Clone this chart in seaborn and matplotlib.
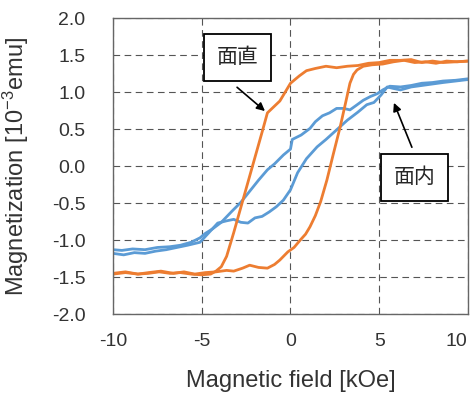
import pandas as pd
import seaborn as sns
import matplotlib.pyplot as plt
from matplotlib.transforms import ScaledTranslation

# perpendicular (面直) loop
perp_up_h = [-10, -9.3, -8.6, -8.0, -7.3, -6.6, -6.0, -5.4, -4.8, -4.2, -3.6, -3.2, -2.7, -2.3,
             -1.8, -1.3, -0.9, -0.6, -0.15, 0.2, 0.55, 0.85, 1.1, 1.4, 1.7, 2.05, 2.4, 2.8, 3.1,
             3.35, 3.55, 3.75, 4.1, 4.6, 5.2, 5.8, 6.4, 7.0, 7.6, 8.2, 8.8, 9.4, 10]
perp_up_m = [-1.45, -1.43, -1.46, -1.44, -1.42, -1.45, -1.43, -1.46, -1.44, -1.43, -1.41, -1.42,
             -1.38, -1.34, -1.37, -1.38, -1.33, -1.27, -1.16, -1.10, -1.00, -0.92, -0.82, -0.67,
             -0.48, -0.19, 0.15, 0.53, 0.85, 1.12, 1.24, 1.30, 1.35, 1.37, 1.38, 1.41, 1.43, 1.40,
             1.41, 1.39, 1.42, 1.41, 1.42]
perp_down_h = [10, 9.3, 8.6, 8.0, 7.4, 6.8, 6.2, 5.6, 5.0, 4.4, 3.8, 3.2, 2.6, 2.0, 1.4, 0.9,
               0.5, 0.0, -0.3, -0.6, -0.95, -1.3, -1.6, -2.0, -2.4, -2.8, -3.2, -3.6, -3.9, -4.2,
               -4.5, -5.0, -5.6, -6.2, -6.8, -7.4, -8.0, -8.6, -9.3, -10]
perp_down_m = [1.42, 1.41, 1.40, 1.42, 1.40, 1.44, 1.43, 1.43, 1.40, 1.39, 1.36, 1.35, 1.33, 1.35,
               1.32, 1.29, 1.22, 1.12, 1.00, 0.88, 0.80, 0.72, 0.46, 0.12, -0.22, -0.56, -0.90,
               -1.22, -1.36, -1.42, -1.46, -1.47, -1.46, -1.44, -1.45, -1.43, -1.45, -1.46, -1.44,
               -1.46]

# in-plane (面内) loop
ip_up_h = [-10, -9.4, -8.8, -8.2, -7.6, -7.0, -6.4, -5.8, -5.1, -4.6, -4.1, -3.6, -3.2, -2.8,
           -2.4, -2.0, -1.6, -1.2, -0.8, -0.4, 0.0, 0.4, 0.9, 1.5, 2.0, 2.6, 3.2, 3.8, 4.3, 4.7,
           5.1, 5.45, 5.8, 6.2, 6.8, 7.4, 8.0, 8.6, 9.3, 10]
ip_up_m = [-1.18, -1.20, -1.17, -1.18, -1.15, -1.13, -1.10, -1.07, -1.03, -0.90, -0.77, -0.74,
           -0.72, -0.76, -0.77, -0.70, -0.68, -0.62, -0.55, -0.46, -0.32, -0.09, 0.10, 0.26,
           0.36, 0.49, 0.62, 0.73, 0.83, 0.86, 0.96, 1.07, 1.05, 1.03, 1.07, 1.09, 1.11, 1.13,
           1.15, 1.17]
ip_down_h = [10, 9.3, 8.6, 8.0, 7.4, 6.8, 6.2, 5.6, 5.2, 4.9, 4.5, 4.1, 3.7, 3.35, 3.0, 2.6,
             2.2, 1.8, 1.4, 1.1, 0.6, 0.1, 0.0, -0.4, -0.9, -1.3, -1.8, -2.3, -2.8, -3.3, -3.9,
             -4.4, -4.8, -5.1, -5.6, -6.2, -6.8, -7.5, -8.2, -8.9, -9.5, -10]
ip_down_m = [1.18, 1.16, 1.15, 1.13, 1.12, 1.09, 1.07, 1.08, 1.03, 0.98, 0.94, 0.89, 0.82, 0.76,
             0.78, 0.78, 0.72, 0.68, 0.60, 0.51, 0.42, 0.36, 0.23, 0.15, 0.03, -0.05, -0.19,
             -0.34, -0.49, -0.61, -0.76, -0.85, -0.91, -0.97, -1.03, -1.07, -1.09, -1.10, -1.13,
             -1.12, -1.14, -1.13]

x_ticks = [-10, -5, 0, 5, 10]
y_ticks = [-2.0, -1.5, -1.0, -0.5, 0.0, 0.5, 1.0, 1.5, 2.0]

parts = []
for name, sample, h, m in [("ip_up", "面内", ip_up_h, ip_up_m),
                           ("ip_down", "面内", ip_down_h, ip_down_m),
                           ("perp_up", "面直", perp_up_h, perp_up_m),
                           ("perp_down", "面直", perp_down_h, perp_down_m)]:
    parts.append(pd.DataFrame({"field": h, "mag": m, "sample": sample, "branch": name}))
df = pd.concat(parts, ignore_index=True)

sns.set_theme(style="white")
plt.rcParams["font.family"] = ["Liberation Sans", "Noto Sans CJK JP", "DejaVu Sans"]
plt.rcParams["mathtext.fontset"] = "custom"
plt.rcParams["mathtext.rm"] = "Liberation Sans"
plt.rcParams["mathtext.it"] = "Liberation Sans"

fig = plt.figure(figsize=(4.77, 3.95), dpi=100)
ax = fig.add_axes([0.237, 0.205, 0.744, 0.749])

palette = {"面内": "#5B9BD5", "面直": "#ED7D31"}
sns.lineplot(data=df, x="field", y="mag", hue="sample", units="branch", estimator=None,
             sort=False, palette=palette, linewidth=2.0, legend=False, ax=ax)

ax.set_xlim(-10, 10)
ax.set_ylim(-2.0, 2.0)
ax.set_xticks(x_ticks)
ax.set_xticklabels([str(t) for t in x_ticks])
ax.set_yticks(y_ticks)
ax.set_yticklabels([f"{t:.1f}" for t in y_ticks])
ax.set_xticks(range(-10, 11), minor=True)

ax.grid(True, which="major", color="#555555", linestyle=(0, (6, 4)), linewidth=0.8)
for s in ax.spines.values():
    s.set_color("#666666")
    s.set_linewidth(1.0)

ax.tick_params(axis="x", which="both", direction="in", length=4, width=0.8,
               color="#666666", labelsize=14, labelcolor="#333333", pad=14)
ax.tick_params(axis="y", length=0, labelsize=14, labelcolor="#333333", pad=20)

# last x label sits a little inside the edge, as in the original
last = ax.get_xticklabels()[-1]
last.set_transform(last.get_transform() + ScaledTranslation(-8 / 72, 0, fig.dpi_scale_trans))

ax.set_xlabel("Magnetic field [kOe]", fontsize=17, color="#333333")
ax.set_ylabel(r"Magnetization [10$^{-3}$emu]", fontsize=17, color="#333333")
ax.xaxis.set_label_coords(0.5, -0.19)
ax.yaxis.set_label_coords(-0.23, 0.5)

box = dict(boxstyle="square,pad=0.6", facecolor="white", edgecolor="black", linewidth=1.3)
arrow = dict(arrowstyle="-|>", color="black", linewidth=1.2, mutation_scale=12)

ax.annotate("", xy=(-1.32, 0.72), xytext=(-3.13, 1.09), arrowprops=arrow)
ax.text(-3.0, 1.47, "面直", fontsize=15, ha="center", va="center",
        family=["Noto Sans CJK JP"], bbox=box, zorder=5)

ax.annotate("", xy=(5.77, 0.89), xytext=(6.9, 0.22), arrowprops=arrow)
ax.text(7.0, -0.15, "面内", fontsize=15, ha="center", va="center",
        family=["Noto Sans CJK JP"], bbox=box, zorder=5)

plt.savefig("out.png", dpi=100)
